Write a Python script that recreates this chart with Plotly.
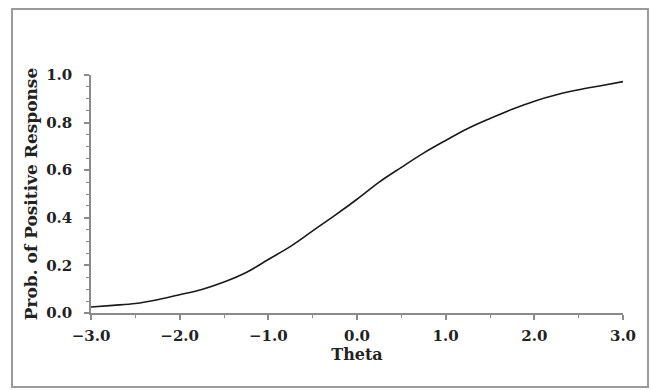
import plotly.graph_objects as go

theta = [-3.0, -2.75, -2.5, -2.25, -2.0, -1.75, -1.5, -1.25, -1.0, -0.75, -0.5, -0.25,
         0.0, 0.25, 0.5, 0.75, 1.0, 1.25, 1.5, 1.75, 2.0, 2.25, 2.5, 2.75, 3.0]
prob = [0.025, 0.032, 0.040, 0.056, 0.077, 0.099, 0.130, 0.170, 0.225, 0.280, 0.345, 0.410,
        0.478, 0.550, 0.612, 0.672, 0.725, 0.775, 0.817, 0.856, 0.890, 0.917, 0.938, 0.955, 0.972]
x_ticks = [-3.0, -2.0, -1.0, 0.0, 1.0, 2.0, 3.0]
x_labels = ["\u22123.0", "\u22122.0", "\u22121.0", "0.0", "1.0", "2.0", "3.0"]
y_ticks = [0.0, 0.2, 0.4, 0.6, 0.8, 1.0]
y_labels = ["0.0", "0.2", "0.4", "0.6", "0.8", "1.0"]

FONT = "DejaVu Serif"
TXT = "#222222"
AX = "#8a8a8a"

fig = go.Figure()
fig.add_trace(go.Scatter(x=theta, y=prob, mode="lines",
                         line=dict(color="#1a1a1a", width=1.6, shape="spline"),
                         showlegend=False))

W, H = 651, 390
L, R, T, B = 91, 28, 75, 77
pw, ph = W - L - R, H - T - B

def px2paper_x(px):
    return (px - L) / pw

def px2paper_y(py):
    return (H - B - py) / ph

fig.add_shape(type="rect", xref="paper", yref="paper",
              x0=px2paper_x(12), x1=px2paper_x(648), y0=px2paper_y(387), y1=px2paper_y(9),
              line=dict(color="#9a9a9a", width=2), fillcolor="rgba(0,0,0,0)")

fig.update_layout(
    width=W, height=H,
    margin=dict(l=L, r=R, t=T, b=B, autoexpand=False),
    paper_bgcolor="white", plot_bgcolor="white",
    font=dict(family=FONT, color=TXT),
    xaxis=dict(range=[-3, 3], tickvals=x_ticks, ticktext=x_labels, automargin=False,
               showgrid=False, zeroline=False, showline=True, linecolor=AX, linewidth=1.5,
               ticks="outside", ticklen=5, tickcolor=AX, tickwidth=1.5, ticklabelstandoff=3,
               minor=dict(tickvals=[-2.5, -1.5, -0.5, 0.5, 1.5, 2.5], ticks="outside", ticklen=3,
                          tickcolor=AX, tickwidth=1.2),
               tickfont=dict(family=FONT, size=15, color=TXT, weight="bold"),
               title=dict(text="<b>Theta</b>", font=dict(family=FONT, size=16, color=TXT), standoff=3)),
    yaxis=dict(range=[0, 1.0], tickvals=y_ticks, ticktext=y_labels, automargin=False,
               showgrid=False, zeroline=False, showline=True, linecolor=AX, linewidth=1.5,
               ticks="outside", ticklen=5, tickcolor=AX, tickwidth=1.5, ticklabelstandoff=9,
               minor=dict(tickvals=[0.05, 0.1, 0.15, 0.25, 0.3, 0.35, 0.45, 0.5, 0.55, 0.65, 0.7, 0.75, 0.85, 0.9, 0.95],
                          ticks="outside", ticklen=3, tickcolor=AX, tickwidth=1.2),
               tickfont=dict(family=FONT, size=15, color=TXT, weight="bold"),
               title=dict(text="<b>Prob. of Positive Response</b>", font=dict(family=FONT, size=17, color=TXT), standoff=4)),
)

fig.write_html("out.html", config={"displayModeBar": False},
               post_script="document.body.style.margin='0';document.body.style.overflow='hidden';")
